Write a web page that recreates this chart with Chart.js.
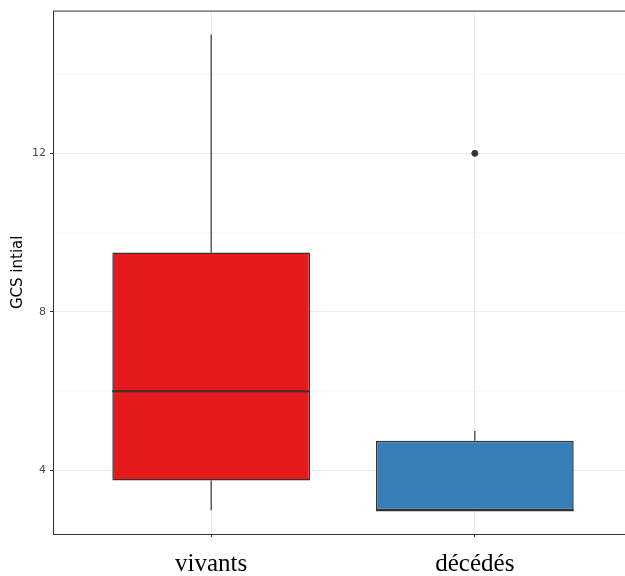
<!DOCTYPE html>
<html>
<head>
<meta charset="utf-8">
<script src="https://cdn.jsdelivr.net/npm/chart.js@4"></script>
<style>
    html, body { margin: 0; padding: 0; background: #fff; overflow: hidden; }
    #wrap { width: 640px; height: 576px; }
</style>
</head>
<body>
<div id="wrap"><canvas id="gcs-chart" width="640" height="576"></canvas></div>
<script>
// groups and their five-number summaries
var groups      = ['vivants', 'décédés'];
var boxColors   = ['#E41A1C', '#377EB8'];
var whiskerLow  = [3, 3];
var q1          = [3.75, 3];
var median      = [6, 3];
var q3          = [9.5, 4.75];
var whiskerHigh = [15, 5];
var outliers    = [{ group: 2, value: 12 }];

var yMajorTicks = [4, 8, 12];
var yMinorTicks = [6, 10, 14];

var BOX_WIDTH = 0.75;

/**
 * Function to build the whisker segments (gaps between them with null)
 */
function buildWhiskers() {
    var pts = [];
    groups.forEach(function (name, i) {
        var x = i + 1;
        pts.push({ x: x, y: whiskerLow[i] }, { x: x, y: q1[i] }, { x: x, y: null });
        pts.push({ x: x, y: q3[i] }, { x: x, y: whiskerHigh[i] }, { x: x, y: null });
    });
    return pts;
}

/**
 * Function to build the median segments
 */
function buildMedians() {
    var pts = [];
    groups.forEach(function (name, i) {
        var x = i + 1;
        pts.push({ x: x - BOX_WIDTH / 2, y: median[i] }, { x: x + BOX_WIDTH / 2, y: median[i] }, { x: x, y: null });
    });
    return pts;
}

// panel border drawn on top, like theme_bw
var panelBorder = {
    id: 'panelBorder',
    afterDatasetsDraw: function (chart) {
        var a = chart.chartArea, ctx = chart.ctx;
        ctx.save();
        ctx.strokeStyle = '#333333';
        ctx.lineWidth = 1;
        ctx.strokeRect(a.left + 0.5, a.top + 0.5, a.right - a.left, a.bottom - a.top);
        ctx.restore();
    }
};

var ctx = document.getElementById('gcs-chart').getContext('2d');

new Chart(ctx, {
    type: 'bar',
    data: {
        datasets: [
            {
                type: 'bar',
                data: groups.map(function (g, i) { return { x: i + 1, y: [q1[i], q3[i]] }; }),
                backgroundColor: boxColors,
                borderColor: '#333333',
                borderWidth: 1.5,
                borderSkipped: false,
                categoryPercentage: 1,
                barPercentage: BOX_WIDTH,
                order: 2
            },
            {
                type: 'line',
                data: buildWhiskers(),
                borderColor: '#333333',
                borderWidth: 1.2,
                pointRadius: 0,
                spanGaps: false,
                order: 3
            },
            {
                type: 'line',
                data: buildMedians(),
                borderColor: '#333333',
                borderWidth: 2.2,
                pointRadius: 0,
                spanGaps: false,
                order: 1
            },
            {
                type: 'scatter',
                data: outliers.map(function (o) { return { x: o.group, y: o.value }; }),
                backgroundColor: '#333333',
                borderColor: '#333333',
                pointRadius: 3,
                order: 0
            }
        ]
    },
    options: {
        responsive: false,
        animation: false,
        events: [],
        layout: { padding: { top: 9, right: 7, left: 0, bottom: 0 } },
        plugins: {
            legend: { display: false },
            tooltip: { enabled: false }
        },
        scales: {
            x: {
                type: 'linear',
                min: 0.4,
                max: 2.6,
                offset: false,
                afterBuildTicks: function (axis) {
                    axis.ticks = groups.map(function (g, i) { return { value: i + 1 }; });
                },
                afterFit: function (axis) { axis.height = 42; },
                border: { display: false },
                grid: {
                    offset: false,
                    color: '#EBEBEB',
                    lineWidth: 1,
                    tickLength: 3,
                    tickColor: '#333333'
                },
                ticks: {
                    autoSkip: false,
                    maxRotation: 0,
                    padding: 12,
                    color: '#000000',
                    font: { family: '"Liberation Serif", "Times New Roman", serif', size: 25 },
                    callback: function (value) { return groups[value - 1]; }
                }
            },
            y: {
                min: 2.4,
                max: 15.6,
                afterBuildTicks: function (axis) {
                    axis.ticks = yMajorTicks.concat(yMinorTicks).sort(function (a, b) { return a - b; })
                        .map(function (v) { return { value: v }; });
                },
                afterFit: function (axis) { axis.width = 53; },
                border: { display: false },
                grid: {
                    color: function (c) { return yMajorTicks.indexOf(c.tick.value) >= 0 ? '#EBEBEB' : '#F3F3F3'; },
                    lineWidth: function (c) { return yMajorTicks.indexOf(c.tick.value) >= 0 ? 1 : 0.6; },
                    tickLength: 3,
                    tickColor: function (c) { return yMajorTicks.indexOf(c.tick.value) >= 0 ? '#333333' : 'rgba(0,0,0,0)'; }
                },
                ticks: {
                    autoSkip: false,
                    padding: 4,
                    color: '#4D4D4D',
                    font: { family: '"DejaVu Sans", sans-serif', size: 11 },
                    callback: function (value) { return yMajorTicks.indexOf(value) >= 0 ? value : ''; }
                },
                title: {
                    display: true,
                    text: 'GCS intial',
                    color: '#000000',
                    padding: { top: 9, bottom: 0 },
                    font: { family: '"DejaVu Sans", sans-serif', size: 15 }
                }
            }
        }
    },
    plugins: [panelBorder]
});
</script>
</body>
</html>
